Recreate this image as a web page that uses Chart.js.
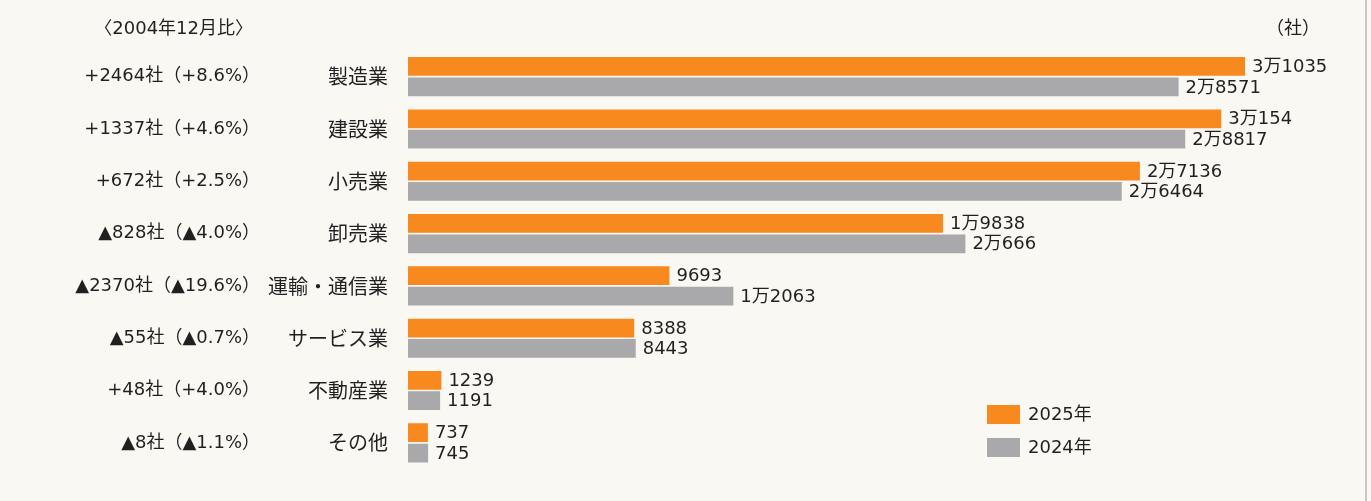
<!DOCTYPE html>
<html lang="ja">
<head>
<meta charset="utf-8">
<script src="https://cdn.jsdelivr.net/npm/chart.js@4/dist/chart.umd.min.js"></script>
<style>
  html, body { margin: 0; padding: 0; background: #faf8f3; }
  #wrap { width: 1371px; height: 501px; position: relative; }
  canvas { display: block; }
</style>
</head>
<body>
<div id="wrap"><canvas id="c" width="1371" height="501"></canvas></div>
<script>
const categories = ['製造業', '建設業', '小売業', '卸売業', '運輸・通信業', 'サービス業', '不動産業', 'その他'];
const changeLabels = ['+2464社（+8.6%）', '+1337社（+4.6%）', '+672社（+2.5%）', '▲828社（▲4.0%）',
                      '▲2370社（▲19.6%）', '▲55社（▲0.7%）', '+48社（+4.0%）', '▲8社（▲1.1%）'];
const values2025 = [31035, 30154, 27136, 19838, 9693, 8388, 1239, 737];
const values2024 = [28571, 28817, 26464, 20666, 12063, 8443, 1191, 745];
const seriesNames = ['2025年', '2024年'];
const headerLeft = '〈2004年12月比〉';
const headerRight = '（社）';

const ORANGE = '#f7891f';
const GRAY = '#a9a8ab';
const TEXT = '#231f20';
const LATIN = '"DejaVu Sans", "Noto Sans CJK JP", sans-serif';
const CJK = '"Noto Sans CJK JP", sans-serif';

function fmt(v) {
  if (v >= 10000) return Math.floor(v / 10000) + '万' + (v % 10000);
  return String(v);
}

const overlay = {
  id: 'overlay',
  beforeDraw(chart) {
    const ctx = chart.ctx;
    ctx.save();
    ctx.fillStyle = '#faf8f3';
    ctx.fillRect(0, 0, chart.width, chart.height);
    ctx.fillStyle = '#c9c8c6';
    ctx.fillRect(1365, 0, 2, chart.height);
    ctx.restore();
  },
  afterDatasetsDraw(chart) {
    const ctx = chart.ctx;
    ctx.save();
    ctx.fillStyle = TEXT;
    ctx.textBaseline = 'middle';
    ctx.textAlign = 'left';
    ctx.font = '18px ' + LATIN;
    chart.data.datasets.forEach((ds, di) => {
      const meta = chart.getDatasetMeta(di);
      meta.data.forEach((bar, i) => {
        ctx.fillText(fmt(ds.data[i]), bar.x + 7, bar.y + 1);
      });
    });
    // headers
    ctx.font = '18px ' + LATIN;
    ctx.textAlign = 'right';
    ctx.fillText(headerLeft, 253, 29);
    ctx.fillText(headerRight, 1320, 29);
    // legend
    ctx.textAlign = 'left';
    ctx.font = '18px ' + LATIN;
    chart.data.datasets.forEach((ds, di) => {
      const y = 405 + di * 33;
      ctx.fillStyle = ds.backgroundColor;
      ctx.fillRect(987, y, 33, 19);
      ctx.fillStyle = TEXT;
      ctx.fillText(ds.label, 1028, y + 10);
    });
    ctx.restore();
  }
};

new Chart(document.getElementById('c'), {
  type: 'bar',
  data: {
    labels: categories,
    datasets: [
      { label: seriesNames[0], data: values2025, backgroundColor: ORANGE, categoryPercentage: 0.78, barPercentage: 0.92 },
      { label: seriesNames[1], data: values2024, backgroundColor: GRAY, categoryPercentage: 0.78, barPercentage: 0.92 }
    ]
  },
  options: {
    indexAxis: 'y',
    responsive: false,
    animation: false,
    layout: { padding: { left: 0, right: 19, top: 50.5, bottom: 27.5 } },
    plugins: { legend: { display: false }, tooltip: { enabled: false }, title: { display: false } },
    scales: {
      x: { display: false, min: 0, max: 35000 },
      y: {
        type: 'category',
        position: 'left',
        weight: 0,
        grid: { display: false, drawTicks: false },
        border: { display: false },
        ticks: { color: TEXT, padding: 20, font: { family: CJK, size: 20 } },
        afterFit(s) { s.width = 148; }
      },
      y2: {
        type: 'category',
        labels: changeLabels,
        position: 'left',
        weight: 1,
        offset: true,
        grid: { display: false, drawTicks: false },
        border: { display: false },
        ticks: { color: TEXT, padding: 0, font: { family: LATIN, size: 18 } },
        afterFit(s) { s.width = 260; }
      }
    }
  },
  plugins: [overlay]
});
</script>
</body>
</html>
